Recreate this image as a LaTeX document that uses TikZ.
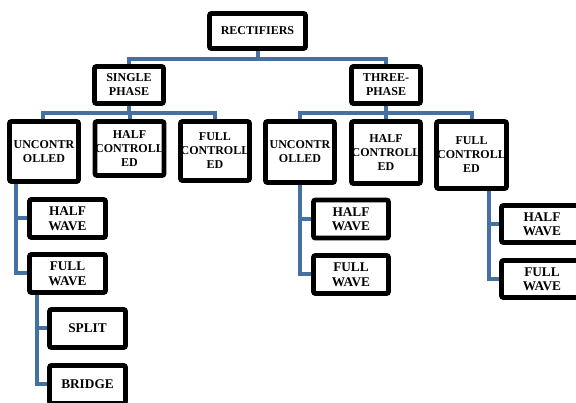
\documentclass[tikz,border=0pt]{standalone}
\usepackage{fontspec}
\setmainfont{Liberation Serif}
\usepackage{xcolor}
\usepackage{tikz}
\usetikzlibrary{positioning, backgrounds}

\definecolor{linkblue}{RGB}{68,112,164}

\begin{document}
\begin{tikzpicture}[
    x=1pt, y=-1pt,
    box/.style={rectangle, draw, line width=4.8pt, rounded corners=2pt, fill=white, align=center, inner sep=0pt,
      font=\bfseries\fontsize{12}{14}\selectfont, minimum width=69pt},
    leaf/.style={box, minimum width=76pt, minimum height=38pt, font=\bfseries\fontsize{13.3}{14.5}\selectfont},
    link/.style={draw=linkblue, line width=4pt}
  ]
    \useasboundingbox (0,0) rectangle (576,403);

    \node[box, minimum width=96pt, minimum height=35pt] (rect) at (257.5,31) {RECTIFIERS};
    \node[box, minimum height=37pt] (single) at (129,85) {SINGLE\\PHASE};
    \node[box, minimum height=37pt] (three) at (386,85) {THREE-\\PHASE};

    % single phase branch
    \node[box, minimum height=60pt] (sunc) at (44,151.5) {UNCONTR\\OLLED};
    \node[box, minimum height=54pt] (shalf) at (129.5,148.5) {HALF\\CONTROLL\\ED};
    \node[box, minimum height=59pt] (sfull) at (215,151) {FULL\\CONTROLL\\ED};
    \node[leaf] (shw) at (67.5,218.5) {HALF\\WAVE};
    \node[leaf] (sfw) at (67.5,273.5) {FULL\\WAVE};
    \node[leaf] (split) at (87.5,328.5) {SPLIT};
    \node[leaf] (bridge) at (87.5,384.5) {BRIDGE};

    % three phase branch
    \node[box, minimum height=61pt] (tunc) at (300,152) {UNCONTR\\OLLED};
    \node[box, minimum height=62pt] (thalf) at (386,152.5) {HALF\\CONTROLL\\ED};
    \node[box, minimum width=70pt, minimum height=67pt] (tfull) at (471.5,155) {FULL\\CONTROLL\\ED};
    \node[leaf, minimum width=75pt] (thw1) at (351,219) {HALF\\WAVE};
    \node[leaf, minimum width=75pt] (tfw1) at (351,274.5) {FULL\\WAVE};
    \node[leaf, minimum width=81pt, minimum height=37pt] (thw2) at (542,224) {HALF\\WAVE};
    \node[leaf, minimum width=81pt, minimum height=37pt] (tfw2) at (542,279) {FULL\\WAVE};

    \begin{scope}[on background layer]
      \draw[link] (rect.south) -- ++(0,8) -| (single.north);
      \draw[link] (rect.south) -- ++(0,8) -| (three.north);
      \draw[link] (single.south) -- ++(0,7) -| ([xshift=-1pt]sunc.north);
      \draw[link] (single.south) -- ++(0,7) -| (shalf.north);
      \draw[link] (single.south) -- ++(0,7) -| (sfull.north);
      \draw[link] (three.south) -- ++(0,7) -| (tunc.north);
      \draw[link] (three.south) -- ++(0,7) -| (thalf.north);
      \draw[link] (three.south) -- ++(0,7) -| (tfull.north);
      \draw[link] ([xshift=9pt]sunc.south west) |- (shw.west);
      \draw[link] ([xshift=9pt]sunc.south west) |- (sfw.west);
      \draw[link] ([xshift=10pt]sfw.south west) |- (split.west);
      \draw[link] ([xshift=10pt]sfw.south west) |- (bridge.west);
      \draw[link] (tunc.south) |- (thw1.west);
      \draw[link] (tunc.south) |- (tfw1.west);
      \draw[link] ([xshift=17.5pt]tfull.south) |- (thw2.west);
      \draw[link] ([xshift=17.5pt]tfull.south) |- (tfw2.west);
    \end{scope}
  \end{tikzpicture}
\end{document}
